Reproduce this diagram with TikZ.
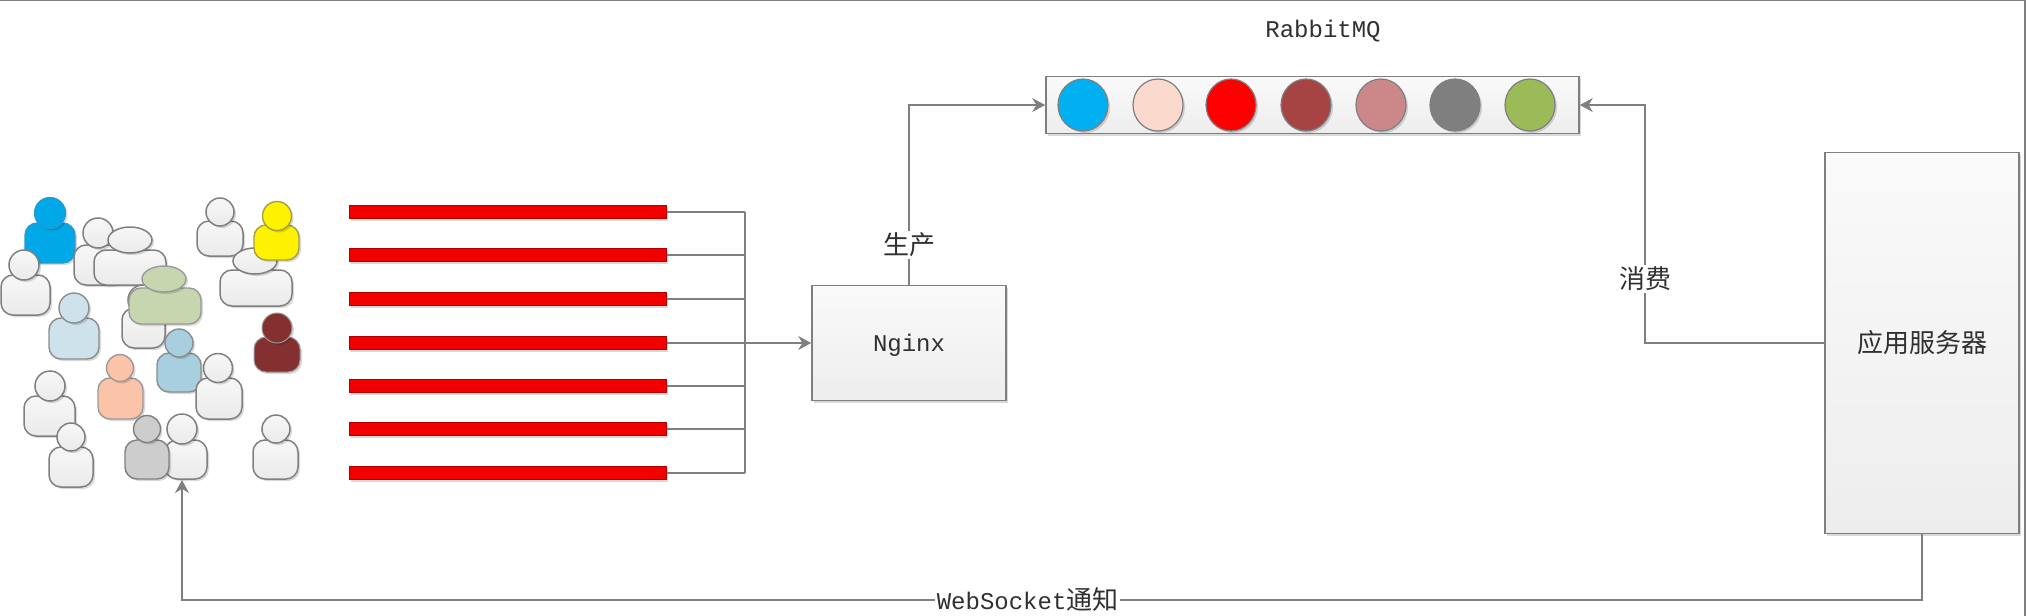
\documentclass[tikz,border=0pt]{standalone}
\usepackage{fontspec}
\setmonofont{Liberation Mono}
\newfontfamily\cjk{Noto Sans CJK SC}
\usetikzlibrary{arrows.meta,shadows,shapes.geometric}
\definecolor{linegray}{HTML}{7F7F7F}
\definecolor{textdark}{HTML}{303030}
\tikzset{
	softshadow/.style={drop shadow={shadow xshift=1pt,shadow yshift=-1pt,fill=black,opacity=.15}},
	boxnode/.style={draw=linegray,line width=.8pt,top color=white!98!black,bottom color=black!7,inner sep=0pt,softshadow,font=\ttfamily\fontsize{12}{14}\selectfont,text=textdark},
	barnode/.style={draw=red!70!black,line width=.5pt,fill=red!95!black,minimum width=158.5pt,minimum height=6.5pt,inner sep=0pt,softshadow},
	msgnode/.style={draw=linegray,line width=.6pt,shape=ellipse,minimum width=25pt,minimum height=26pt,inner sep=0pt,softshadow},
	conn/.style={draw=linegray,line width=.75pt},
	connarrow/.style={conn,-{Stealth[length=6.5pt,width=7pt]}},
	lab/.style={fill=white,inner sep=1pt,text=textdark,font=\cjk\fontsize{13}{15}\selectfont},
	pwhite/.style={draw=black!50,line width=.75pt,top color=white!97!black,bottom color=black!8},
	pcyan/.style={draw=cyan!80!black,line width=.6pt,fill={rgb,255:red,0;green,168;blue,232}},
	ppale/.style={draw=black!45,line width=.7pt,fill={rgb,255:red,206;green,226;blue,236}},
	psky/.style={draw=black!45,line width=.7pt,fill={rgb,255:red,168;green,207;blue,224}},
	ppeach/.style={draw=black!40,line width=.7pt,fill={rgb,255:red,251;green,196;blue,168}},
	pgrey/.style={draw=black!50,line width=.7pt,fill={rgb,255:red,205;green,205;blue,205}},
	pgreen/.style={draw=black!40,line width=.7pt,fill={rgb,255:red,200;green,214;blue,176}},
	pyellow/.style={draw=yellow!60!black,line width=.7pt,fill=yellow},
	pmaroon/.style={draw=black!40,line width=.5pt,fill={rgb,255:red,133;green,48;blue,48}},
}
% style, head x y rx ry, body x1 y1 x2 y2
\newcommand{\person}[9]{%
	\draw[#1,rounded corners=6pt,softshadow] (#6,#7) rectangle (#8,#9);
	\draw[#1,softshadow] (#2,#3) ellipse ({#4*.5pt} and {#5*.5pt});
}
\begin{document}
\begin{tikzpicture}[x=.5pt,y=-.5pt]
	\useasboundingbox (0,0) rectangle (2026,616);
	\draw[linegray,line width=.8pt] (0,0) -- (2025,0) -- (2025,616);

	% users
	\person{pcyan}{50}{213}{15.5}{15.5}{25}{223}{75}{263}
	\person{pwhite}{24}{265}{15}{15}{1}{275}{50}{315}
	\person{pwhite}{98}{233}{15}{15}{74}{245}{124}{285}
	\person{pwhite}{130}{240}{22}{13}{94}{250}{166}{285}
	\person{pwhite}{143}{300}{15}{15}{122}{308}{165}{348}
	\person{pgreen}{164}{279}{22}{13}{129}{288}{201}{324}
	\person{ppale}{74}{308}{15}{15}{49}{318}{99}{359}
	\person{psky}{179}{343}{14}{14}{157}{353}{201}{392}
	\person{ppeach}{120}{368}{13.5}{13.5}{98}{378}{143}{419}
	\person{pwhite}{218}{368}{14.5}{14.5}{196}{378}{242}{419}
	\person{pwhite}{50}{386}{15}{15}{24}{396}{75}{436}
	\person{pwhite}{71}{437}{14}{14}{49}{447}{93}{487}
	\person{pwhite}{182}{429}{15}{15}{165}{440}{207}{479}
	\person{pgrey}{147}{429}{13.5}{13.5}{125}{440}{169}{479}
	\person{pwhite}{276}{429}{14}{14}{253}{440}{298}{479}
	\person{pwhite}{220}{212}{14}{14}{197}{221}{243}{256}
	\person{pwhite}{255}{261}{22}{13}{220}{270}{292}{306}
	\person{pyellow}{277}{216}{14.5}{14.5}{254}{225}{299}{260}
	\person{pmaroon}{277}{328}{15}{15}{254}{337}{300}{372}

	% connections
	\foreach \i/\yy in {1/212,2/255,3/299,4/343,5/386,6/429,7/473}
		\node[barnode] (bar\i) at (507.5,\yy) {};

	\coordinate (hub) at (745,343);
	\node[boxnode,minimum width=97pt,minimum height=57.5pt,text depth=0pt] (nginx) at (909,343) {Nginx};
	\node[boxnode,minimum width=266.5pt,minimum height=28.5pt] (queue) at (1312.5,105) {};
	\node[boxnode,minimum width=97pt,minimum height=190.5pt] (server) at (1922,343) {};
	\node[lab,fill=none] (serverlab) at (1922,343) {应用服务器};
	\node[font=\ttfamily\fontsize{12}{14}\selectfont,text=textdark] (mqlab) at (1323,31) {RabbitMQ};

	\foreach \i/\xx/\cc in {1/1083/00B0F0,2/1158/FBDACD,3/1231/FF0000,4/1306/A64444,5/1381/CC8888,6/1455/7F7F7F,7/1530/9BBB59} {
		\definecolor{msgcol}{HTML}{\cc}
		\node[msgnode,fill=msgcol] (msg\i) at (\xx,105) {};
	}

	\foreach \i in {1,2,3,5,6,7}
		\draw[conn] (bar\i.east) -- (bar\i.east -| hub);
	\draw[conn] (bar1.east -| hub) -- (bar7.east -| hub);
	\draw[connarrow] (bar4.east) -- (nginx.west);

	\draw[connarrow] (nginx.north) |- node[lab,pos=.11] (makelab) {生产} (queue.west);

	\coordinate (usebend) at (1645,105);
	\draw[connarrow] (server.west) -| node[lab,pos=.635] (uselab) {消费} (usebend) -- (queue.east);

	\coordinate (notify) at (182,480);
	\coordinate (corner) at (182,600);
	\draw[connarrow] (server.south) |- node[lab,pos=.757] (wslab) {{\ttfamily\fontsize{12}{14}\selectfont WebSocket}通知} (corner) -- (notify);
\end{tikzpicture}
\end{document}
